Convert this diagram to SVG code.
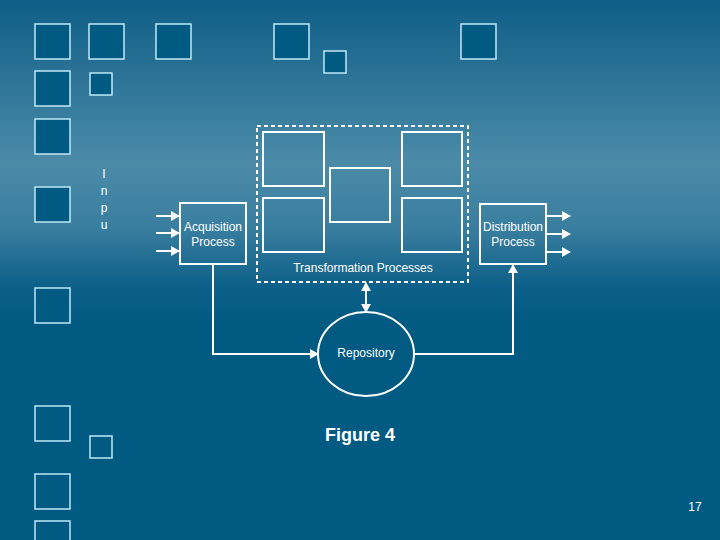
<svg xmlns="http://www.w3.org/2000/svg" width="720" height="540" viewBox="0 0 720 540">
<defs>
<linearGradient id="bg" x1="0" y1="0" x2="0" y2="1">
<stop offset="0" stop-color="#0f5e87"/>
<stop offset="0.3" stop-color="#4b8ba8"/>
<stop offset="0.42" stop-color="#3a7e9f"/>
<stop offset="0.53" stop-color="#0d6089"/>
<stop offset="0.6" stop-color="#005a82"/>
<stop offset="1" stop-color="#005a82"/>
</linearGradient>
<marker id="ah" viewBox="0 0 10 10" refX="9" refY="5" markerWidth="9" markerHeight="10" markerUnits="userSpaceOnUse" orient="auto-start-reverse" preserveAspectRatio="none">
<path d="M0,0 L10,5 L0,10 z" fill="#ffffff"/>
</marker>
<style>
.deco{fill:#005a82;stroke:#bfe9f7;stroke-width:1.5}
.box{fill:none;stroke:#ffffff;stroke-width:2}
.line{fill:none;stroke:#ffffff;stroke-width:2}
.t{font-family:"Liberation Sans",Arial,sans-serif;font-size:12px;fill:#ffffff;text-anchor:middle}
</style>
</defs>
<rect x="0" y="0" width="720" height="540" fill="url(#bg)"/>
<g id="decor">
<rect class="deco" x="35" y="24" width="35" height="35"/>
<rect class="deco" x="89" y="24" width="35" height="35"/>
<rect class="deco" x="156" y="24" width="35" height="35"/>
<rect class="deco" x="274" y="24" width="35" height="35"/>
<rect class="deco" x="324" y="51" width="22" height="22"/>
<rect class="deco" x="461" y="24" width="35" height="35"/>
<rect class="deco" x="35" y="71" width="35" height="35"/>
<rect class="deco" x="90" y="73" width="22" height="22"/>
<rect class="deco" x="35" y="119" width="35" height="35"/>
<rect class="deco" x="35" y="187" width="35" height="35"/>
<rect class="deco" x="35" y="288" width="35" height="35"/>
<rect class="deco" x="35" y="406" width="35" height="35"/>
<rect class="deco" x="90" y="436" width="22" height="22"/>
<rect class="deco" x="35" y="474" width="35" height="35"/>
<rect class="deco" x="35" y="521" width="35" height="35"/>
</g>
<g id="input-label">
<text class="t" x="104" y="178">I</text>
<text class="t" x="104" y="195">n</text>
<text class="t" x="104" y="212">p</text>
<text class="t" x="104" y="229">u</text>
</g>
<g id="connectors">
<line class="line" x1="156" y1="216" x2="179" y2="216" marker-end="url(#ah)"/>
<line class="line" x1="156" y1="233" x2="179" y2="233" marker-end="url(#ah)"/>
<line class="line" x1="156" y1="251" x2="179" y2="251" marker-end="url(#ah)"/>
<line class="line" x1="546" y1="216" x2="570" y2="216" marker-end="url(#ah)"/>
<line class="line" x1="546" y1="234" x2="570" y2="234" marker-end="url(#ah)"/>
<line class="line" x1="546" y1="252" x2="570" y2="252" marker-end="url(#ah)"/>
<polyline class="line" points="213,264 213,354 318,354" marker-end="url(#ah)"/>
<polyline class="line" points="414,354 513,354 513,265" marker-end="url(#ah)"/>
<line class="line" x1="366" y1="283" x2="366" y2="312" marker-start="url(#ah)" marker-end="url(#ah)"/>
</g>
<g id="acquisition">
<rect class="box" x="180" y="203" width="66" height="61"/>
<text class="t" x="213" y="231">Acquisition</text>
<text class="t" x="213" y="246">Process</text>
</g>
<g id="transformation">
<rect x="257" y="126" width="211" height="156" fill="none" stroke="#ffffff" stroke-width="2" stroke-dasharray="4 3"/>
<rect class="box" x="263" y="132" width="61" height="54"/>
<rect class="box" x="263" y="198" width="61" height="54"/>
<rect class="box" x="330" y="168" width="60" height="54"/>
<rect class="box" x="402" y="132" width="60" height="54"/>
<rect class="box" x="402" y="198" width="60" height="54"/>
<text class="t" x="363" y="272">Transformation Processes</text>
</g>
<g id="distribution">
<rect class="box" x="480" y="204" width="66" height="60"/>
<text class="t" x="513" y="231">Distribution</text>
<text class="t" x="513" y="246">Process</text>
</g>
<g id="repository">
<ellipse class="box" cx="366" cy="354" rx="48" ry="42"/>
<text class="t" x="366" y="357">Repository</text>
</g>
<text x="360" y="441" font-family="Liberation Sans,Arial,sans-serif" font-size="18" font-weight="bold" fill="#ffffff" text-anchor="middle">Figure 4</text>
<text x="695" y="511" font-family="Liberation Sans,Arial,sans-serif" font-size="12" fill="#ffffff" text-anchor="middle">17</text>
</svg>
